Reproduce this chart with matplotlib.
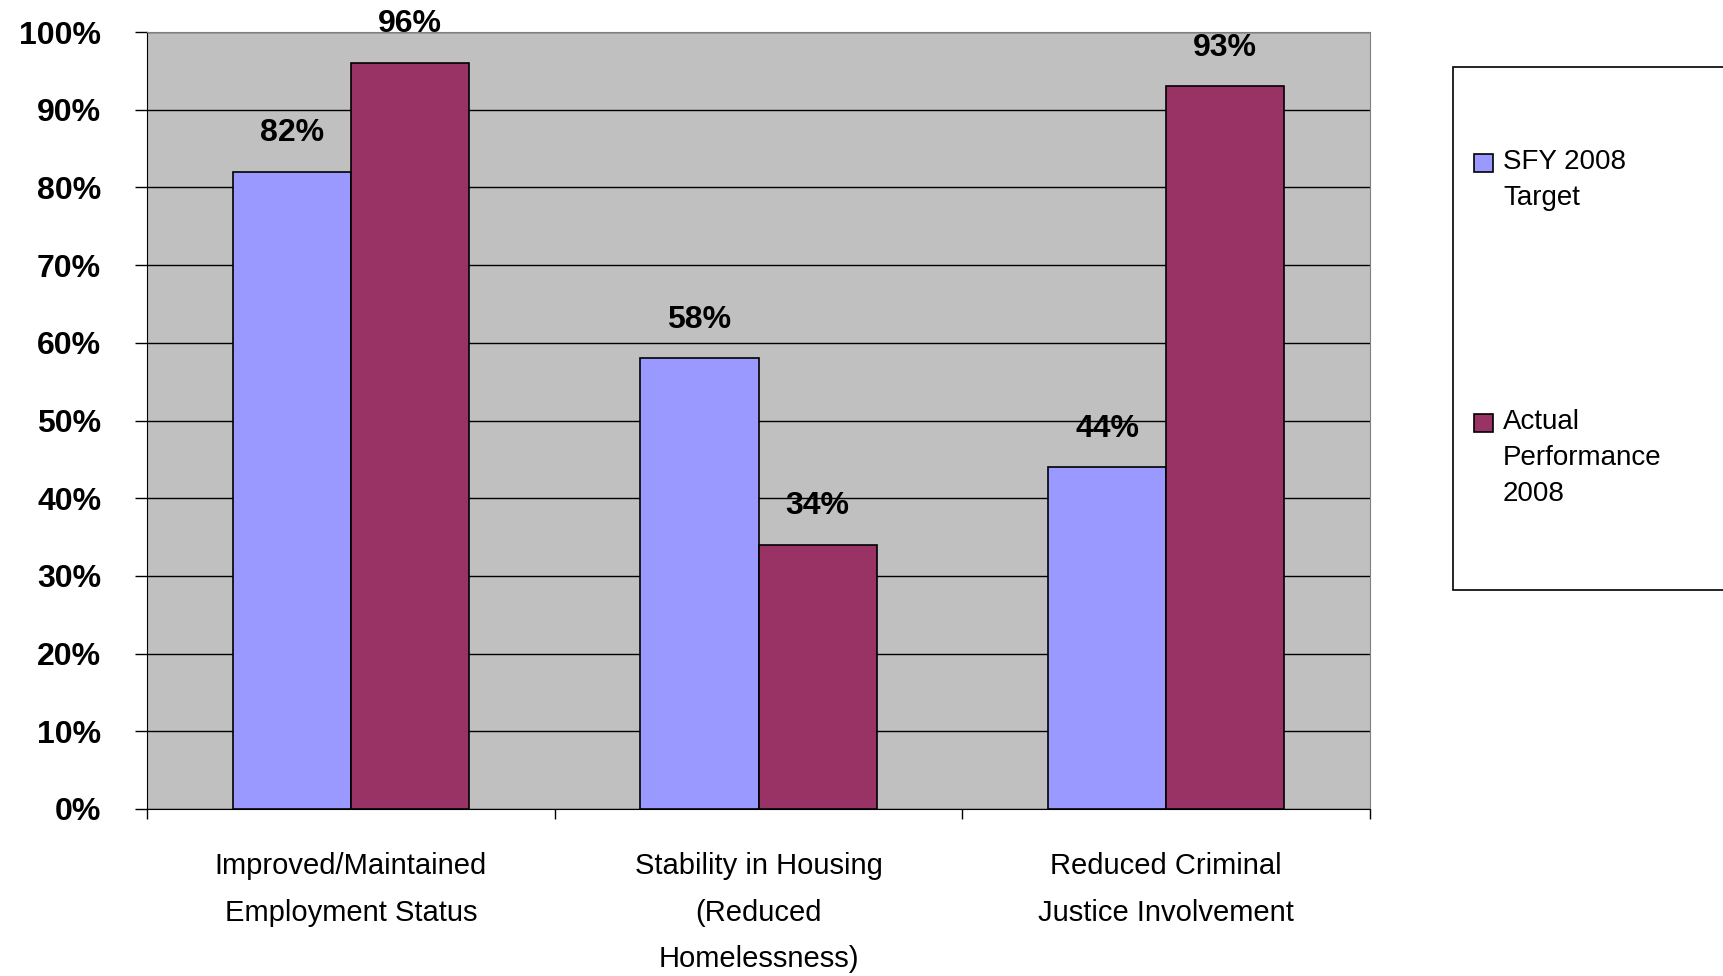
import matplotlib
matplotlib.use("Agg")
import matplotlib.pyplot as plt
from matplotlib.patches import Rectangle
import numpy as np

categories = ["Improved/Maintained\nEmployment Status",
              "Stability in Housing\n(Reduced\nHomelessness)",
              "Reduced Criminal\nJustice Involvement"]
series_names = ["SFY 2008\nTarget", "Actual\nPerformance\n2008"]
target = [82, 58, 44]
actual = [96, 34, 93]
yticks = [0, 10, 20, 30, 40, 50, 60, 70, 80, 90, 100]
ytick_labels = [f"{v}%" for v in yticks]

colors = ["#9999FF", "#993366"]
FONT = ["Liberation Sans Narrow", "Liberation Sans", "DejaVu Sans"]
plt.rcParams['font.family'] = FONT

W, H = 1723, 976
fig = plt.figure(figsize=(W / 100, H / 100), dpi=100)
fig.patch.set_facecolor("white")
ax = fig.add_axes([147 / W, 1 - 809 / H, (1370 - 147) / W, (809 - 32) / H])
ax.set_facecolor("#C0C0C0")

x = np.arange(len(categories)) + 0.5
bw = 0.29
b1 = ax.bar(x - bw / 2, target, bw, color=colors[0], edgecolor="black", linewidth=1.2, zorder=3)
b2 = ax.bar(x + bw / 2, actual, bw, color=colors[1], edgecolor="black", linewidth=1.2, zorder=3)

for bars, vals in ((b1, target), (b2, actual)):
    for r, v in zip(bars, vals):
        ax.annotate(f"{v}%", (r.get_x() + r.get_width() / 2, v), xytext=(0, 17),
                    textcoords="offset points", ha="center", va="bottom",
                    fontsize=23, fontweight="bold", annotation_clip=False)

ax.set_xlim(0, 3)
ax.set_ylim(0, 100)
ax.set_yticks(yticks)
ax.set_yticklabels(ytick_labels, fontsize=23, fontweight="bold")
ax.tick_params(axis="y", direction="out", length=9, width=1, pad=24)
ax.yaxis.grid(True, color="black", linewidth=1, zorder=1)
ax.set_axisbelow(True)

ax.set_xticks([0, 1, 2, 3])
ax.set_xticklabels([])
ax.tick_params(axis="x", which="major", direction="out", length=7, width=1)
ax.set_xticks(x, minor=True)
ax.set_xticklabels(categories, minor=True, fontsize=21, linespacing=1.85)
ax.tick_params(axis="x", which="minor", length=0, pad=31)

for s in ("top", "right"):
    ax.spines[s].set_color("#808080")
for s in ("left", "bottom"):
    ax.spines[s].set_color("black")

# legend
fig.patches.append(Rectangle((1453 / W, 1 - 590 / H), (1740 - 1453) / W, (590 - 67) / H,
                             transform=fig.transFigure, facecolor="white",
                             edgecolor="black", linewidth=1.2, zorder=0))
entry_y = [163, 423]
for name, col, yy in zip(series_names, colors, entry_y):
    fig.patches.append(Rectangle((1474 / W, 1 - (yy + 9) / H), 19 / W, 18 / H,
                                 transform=fig.transFigure, facecolor=col,
                                 edgecolor="black", linewidth=1.2))
    fig.text(1503 / W, 1 - (yy - 14) / H, name, fontsize=20, va="top", ha="left",
             linespacing=1.5)

fig.savefig("out.png", dpi=100)
